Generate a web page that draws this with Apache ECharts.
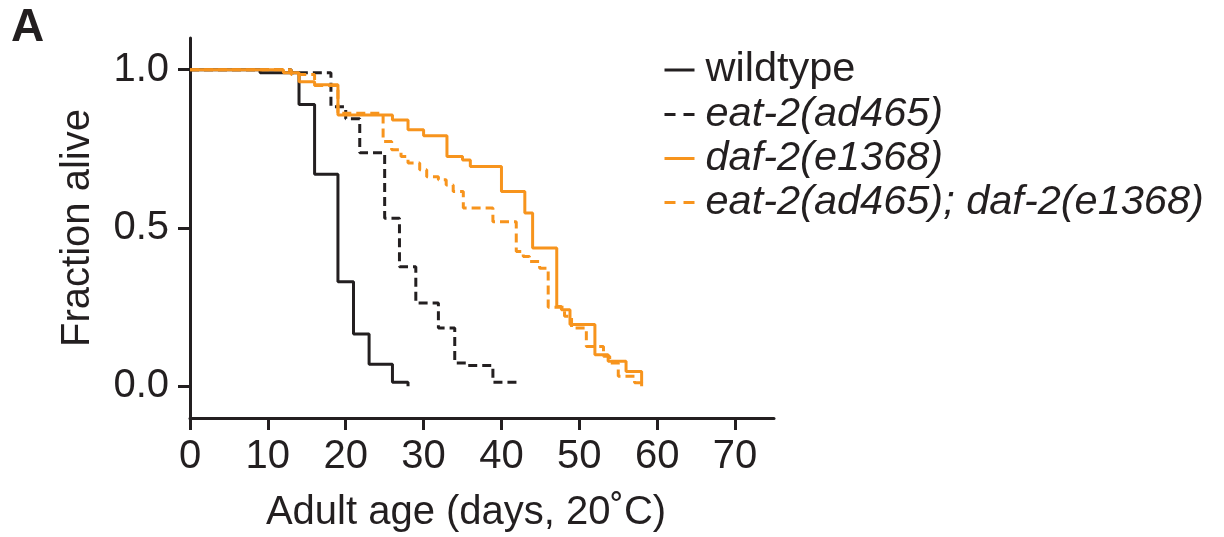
<!DOCTYPE html>
<html>
<head>
<meta charset="utf-8">
<script src="https://cdn.jsdelivr.net/npm/echarts@6/dist/echarts.min.js"></script>
<style>
  html, body { margin: 0; padding: 0; background: #fff; }
  #chart { width: 1224px; height: 537px; }
</style>
</head>
<body>
<div id="chart"></div>
<script>
// survival data (day, fraction alive)
const wtDays = [0, 9, 14, 16, 19, 21, 23, 26, 28]
const wtAlive = [1, 0.99, 0.89, 0.67, 0.33, 0.165, 0.07, 0.013, 0.0]

const eatDays = [0, 13, 18.1, 20, 21.8, 25, 26.9, 29, 31.9, 34, 35.5, 38.9, 42]
const eatAlive = [1, 0.99, 0.883, 0.845, 0.738, 0.531, 0.378, 0.263, 0.184, 0.074, 0.066, 0.013, 0.0]

const dafDays = [0, 12, 14, 16, 19, 26, 28, 30, 33, 35, 36, 40, 43, 44, 47.1, 47.7, 48.8, 52, 53.7, 56, 58]
const dafAlive = [1, 0.99, 0.962, 0.952, 0.857, 0.841, 0.81, 0.791, 0.726, 0.715, 0.694, 0.615, 0.547, 0.437, 0.252, 0.242, 0.195, 0.1, 0.079, 0.047, 0.0]

const bothDays = [0, 13, 16, 19, 24.8, 25.9, 27.1, 28, 29.5, 30.4, 31.9, 32.9, 33.8, 35.1, 38.9, 41.9, 42.8, 43.6, 44.9, 46, 48.1, 49, 50.9, 53.1, 53.9, 55, 57.1, 58]
const bothAlive = [1, 0.985, 0.95, 0.862, 0.773, 0.747, 0.726, 0.705, 0.684, 0.662, 0.652, 0.636, 0.615, 0.563, 0.52, 0.426, 0.41, 0.394, 0.373, 0.25, 0.221, 0.184, 0.126, 0.095, 0.074, 0.032, 0.011, 0.0]

const seriesNames = ['wildtype', 'eat-2(ad465)', 'daf-2(e1368)', 'eat-2(ad465); daf-2(e1368)']
const xTicks = [0, 10, 20, 30, 40, 50, 60, 70]
const yTicks = [0, 0.5, 1.0]

const BLACK = '#231f20'
const ORANGE = '#f7941d'
const FONT = 'Liberation Sans'

const pairs = (xs, ys) => xs.map((x, i) => [x, ys[i]])

const chart = echarts.init(document.getElementById('chart'))

function stepSeries(name, data, color, dashed) {
  return {
    name: name,
    type: 'line',
    step: 'end',
    data: data,
    symbol: 'none',
    animation: false,
    lineStyle: {
      color: color,
      width: 3,
      type: dashed ? [9, 5] : 'solid'
    },
    itemStyle: { color: color }
  }
}

// legend swatches: dashed ones show two dashes like the original
const legendItems = seriesNames.map((name, i) => (
  i % 2 === 1 ? { name: name, lineStyle: { type: [11, 8] } } : { name: name }
))

const option = {
  backgroundColor: '#fff',
  title: {
    text: 'A',
    left: 6,
    top: 0,
    textStyle: { fontFamily: FONT, fontSize: 46, fontWeight: 'bold', color: BLACK }
  },
  legend: {
    orient: 'vertical',
    left: 663,
    top: 49,
    padding: 0,
    itemWidth: 30,
    itemHeight: 14,
    itemGap: 3,
    data: legendItems,
    itemStyle: { opacity: 0 },
    lineStyle: { width: 3 },
    formatter: function (name) {
      return name === 'wildtype' ? '{n|' + name + '}' : '{i|' + name + '}'
    },
    textStyle: {
      fontFamily: FONT,
      fontSize: 41.5,
      color: BLACK,
      padding: [0, 0, 0, 6],
      rich: {
        n: { fontFamily: FONT, fontSize: 41.5, color: BLACK, lineHeight: 42 },
        i: { fontFamily: FONT, fontSize: 41.5, color: BLACK, fontStyle: 'italic', lineHeight: 42 }
      }
    }
  },
  grid: {
    left: 190,
    right: 450,
    top: 38,
    bottom: 119,
    outerBoundsMode: 'none'
  },
  xAxis: {
    type: 'value',
    min: 0,
    max: 75,
    name: 'Adult age (days, 20˚C)',
    nameLocation: 'middle',
    nameGap: 75,
    nameTextStyle: { fontFamily: FONT, fontSize: 40, color: BLACK, padding: [0, 32, 0, 0] },
    splitLine: { show: false },
    axisLine: { onZero: false, lineStyle: { color: BLACK, width: 3 } },
    axisTick: { show: true, customValues: xTicks, length: 12, lineStyle: { color: BLACK, width: 3 } },
    axisLabel: { customValues: xTicks, margin: 19, fontFamily: FONT, fontSize: 40, color: BLACK }
  },
  yAxis: {
    type: 'value',
    min: -0.1,
    max: 1.1,
    name: 'Fraction alive',
    nameLocation: 'middle',
    nameGap: 92,
    nameTextStyle: { fontFamily: FONT, fontSize: 40, color: BLACK },
    splitLine: { show: false },
    axisLine: { show: true, onZero: false, lineStyle: { color: BLACK, width: 3 } },
    axisTick: { show: true, customValues: yTicks, length: 12, lineStyle: { color: BLACK, width: 3 } },
    axisLabel: {
      customValues: yTicks,
      margin: 21,
      fontFamily: FONT,
      fontSize: 40,
      color: BLACK,
      formatter: v => v.toFixed(1)
    }
  },
  series: [
    stepSeries(seriesNames[0], pairs(wtDays, wtAlive), BLACK, false),
    stepSeries(seriesNames[1], pairs(eatDays, eatAlive), BLACK, true),
    stepSeries(seriesNames[2], pairs(dafDays, dafAlive), ORANGE, false),
    stepSeries(seriesNames[3], pairs(bothDays, bothAlive), ORANGE, true)
  ]
}

chart.setOption(option)
</script>
</body>
</html>
